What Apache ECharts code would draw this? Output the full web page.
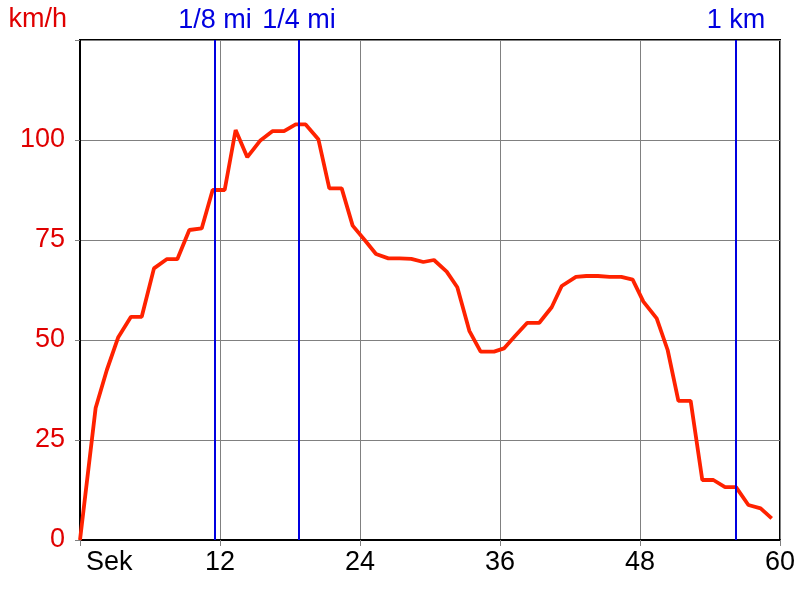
<!DOCTYPE html>
<html>
<head>
<meta charset="utf-8">
<script src="https://cdn.jsdelivr.net/npm/echarts@6/dist/echarts.min.js"></script>
<style>html,body{margin:0;padding:0;background:#fff}#c{width:800px;height:600px}</style>
</head>
<body>
<div id="c"></div>
<script>
var timeSec = [0,1.34,2.3,3.28,4.37,5.29,6.34,7.43,8.34,9.37,10.43,11.37,12.4,13.34,14.34,15.43,16.49,17.49,18.49,19.34,20.43,21.37,22.43,23.37,24.4,25.37,26.43,27.4,28.4,29.43,30.34,31.43,32.34,33.37,34.34,35.49,36.34,37.29,38.34,39.37,40.43,41.29,42.51,43.4,44.4,45.4,46.4,47.37,48.29,49.43,50.37,51.29,52.34,53.34,54.29,55.29,56.23,57.29,58.34,59.29];
var speedKmh = [0,33,42.5,50.7,55.8,55.8,67.9,70.2,70.2,77.5,77.9,87.5,87.5,102.5,95.7,99.8,102.2,102.2,103.9,103.9,100.2,87.9,87.9,78.6,75,71.5,70.4,70.4,70.3,69.5,70,67.1,63.2,52.3,47.1,47.1,47.9,51,54.3,54.3,58.2,63.5,65.8,66,66,65.8,65.8,65.1,59.6,55.4,47.5,34.8,34.8,15,15,13.2,13.2,8.75,7.9,5.4];
var markerNames = ['1/8 mi','1/4 mi','1 km'];
var markerTimes = [11.57,18.77,56.23];
var xTicks = {0:'Sek',12:'12',24:'24',36:'36',48:'48',60:'60'};
var yTicks = {0:'0',25:'25',50:'50',75:'75',100:'100'};

var chart = echarts.init(document.getElementById('c'), null, {renderer:'canvas'});
var font = "'Liberation Sans', Arial, sans-serif";
chart.setOption({
  animation:false,
  backgroundColor:'#fff',
  grid:{left:80,right:20,top:40,bottom:60,show:true,borderColor:'#000',borderWidth:2,backgroundColor:'transparent'},
  xAxis:{
    type:'value',min:0,max:60,interval:12,
    axisLine:{show:true,onZero:false,lineStyle:{color:'#000',width:2}},
    axisTick:{show:true,length:6,lineStyle:{color:'#808080'}},
    splitLine:{show:true,lineStyle:{color:'#808080',width:1}},
    axisLabel:{color:'#000',fontSize:27,fontFamily:font,margin:9,alignMinLabel:'left',
      formatter:function(v){
        if(v===0) return '{s|' + xTicks[v] + '}';
        return xTicks[v]!==undefined?xTicks[v]:'';
      },
      rich:{s:{color:'#000',fontSize:27,fontFamily:font,padding:[0,0,0,6]}}}
  },
  yAxis:{
    type:'value',min:0,max:125,interval:25,
    name:'km/h',nameLocation:'end',nameGap:7,
    nameTextStyle:{color:'#e00000',fontSize:27,fontFamily:font,align:'right',padding:[0,13,0,0]},
    axisLine:{show:true,onZero:false,lineStyle:{color:'#000',width:2}},
    axisTick:{show:true,length:5,lineStyle:{color:'#808080'}},
    splitLine:{show:true,lineStyle:{color:'#808080',width:1}},
    axisLabel:{color:'#e00000',fontSize:27,fontFamily:font,margin:15,
      formatter:function(v){return yTicks[v]!==undefined?yTicks[v]:'';}}
  },
  series:[{
    type:'line',
    data:timeSec.map(function(t,i){return [t,speedKmh[i]];}),
    symbol:'none',
    lineStyle:{color:'#ff2200',width:3.8},
    z:3,
    markLine:{
      silent:true,symbol:['none','none'],
      lineStyle:{color:'#0000e0',width:2,type:'solid'},
      label:{show:true,position:'end',color:'#0000e0',fontSize:27,fontFamily:font,distance:6,
        formatter:function(p){return p.name;}},
      data:markerTimes.map(function(t,i){return {xAxis:t,name:markerNames[i]};})
    }
  }]
});
</script>
</body>
</html>
